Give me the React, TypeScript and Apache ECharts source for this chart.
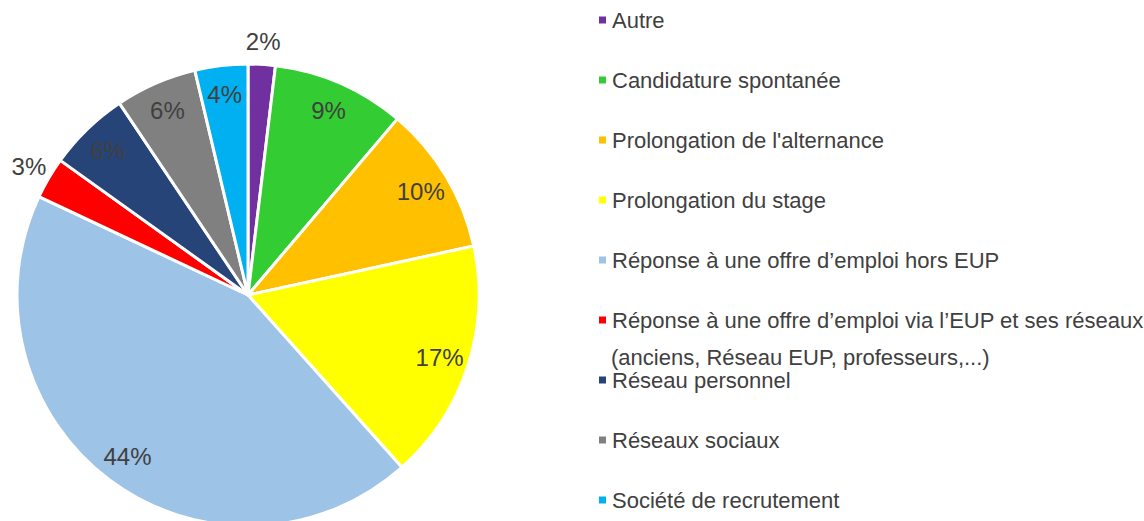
import React, { useEffect, useRef } from "react";
import * as echarts from "echarts";

const categories = [
  "Autre",
  "Candidature spontanée",
  "Prolongation de l'alternance",
  "Prolongation du stage",
  "Réponse à une offre d’emploi hors EUP",
  "Réponse à une offre d’emploi via l’EUP et ses réseaux",
  "Réseau personnel",
  "Réseaux sociaux",
  "Société de recrutement",
];
const secondLine = "(anciens, Réseau EUP, professeurs,...)";
const values = [1.9, 9.3, 10.4, 16.8, 43.6, 2.9, 5.7, 5.7, 3.7];
const colors = [
  "#7030A0",
  "#33CC33",
  "#FFC000",
  "#FFFF00",
  "#9DC3E6",
  "#FF0000",
  "#264478",
  "#808080",
  "#00B0F0",
];
const outsideLabelItems = ["Autre", "Réponse à une offre d’emploi via l’EUP et ses réseaux"];

const FONT = "'Liberation Sans', Arial, sans-serif";
const TEXT = "#404040";
const LEGEND_SIZE = 22;

export default function App() {
  const ref = useRef<HTMLDivElement>(null);
  useEffect(() => {
    document.body.style.margin = "0";
    if (!ref.current) return;
    const chart = echarts.init(ref.current, undefined, { renderer: "svg" });
    const center = [248, 295];
    const R = 231;
    const fmt = (p: any) => Math.round(p.value) + "%";
    const base = categories.map((n, i) => ({ name: n, value: values[i], itemStyle: { color: colors[i] } }));
    chart.setOption({
      animation: false,
      backgroundColor: "#fff",
      textStyle: { fontFamily: FONT },
      legend: {
        data: categories,
        orient: "vertical",
        left: 597,
        top: 5,
        padding: 0,
        height: 600,
        icon: "rect",
        itemWidth: 9,
        itemHeight: 9,
        itemGap: 30,
        textStyle: { fontFamily: FONT, fontSize: LEGEND_SIZE, color: TEXT, lineHeight: 30 },
        selectedMode: false,
      },
      graphic: [
        {
          type: "text",
          left: 611,
          top: 346,
          style: { text: secondLine, font: `${LEGEND_SIZE}px ${FONT}`, fill: TEXT },
        },
      ],
      series: [
        {
          type: "pie",
          center,
          radius: [0, R],
          startAngle: 90,
          clockwise: true,
          silent: true,
          label: { show: false },
          labelLine: { show: false },
          itemStyle: { borderColor: "#fff", borderWidth: 3 },
          data: base,
        },
        {
          type: "pie",
          center,
          radius: [166, R],
          startAngle: 90,
          silent: true,
          label: {
            show: true,
            position: "inside",
            formatter: fmt,
            fontFamily: FONT,
            fontSize: 24,
            color: TEXT,
          },
          labelLine: { show: false },
          itemStyle: { color: "transparent", borderWidth: 0 },
          data: categories.map((n, i) => ({
            name: n,
            value: values[i],
            label: { show: !outsideLabelItems.includes(n) },
          })),
        },
        {
          type: "pie",
          center,
          radius: [R, R + 40],
          startAngle: 90,
          silent: true,
          label: {
            show: true,
            position: "inside",
            formatter: fmt,
            fontFamily: FONT,
            fontSize: 24,
            color: TEXT,
          },
          labelLine: { show: false },
          itemStyle: { color: "transparent", borderWidth: 0 },
          data: categories.map((n, i) => ({
            name: n,
            value: values[i],
            label: { show: outsideLabelItems.includes(n) },
          })),
        },
      ],
    });
    return () => chart.dispose();
  }, []);
  return <div ref={ref} style={{ width: 1144, height: 521 }} />;
}
